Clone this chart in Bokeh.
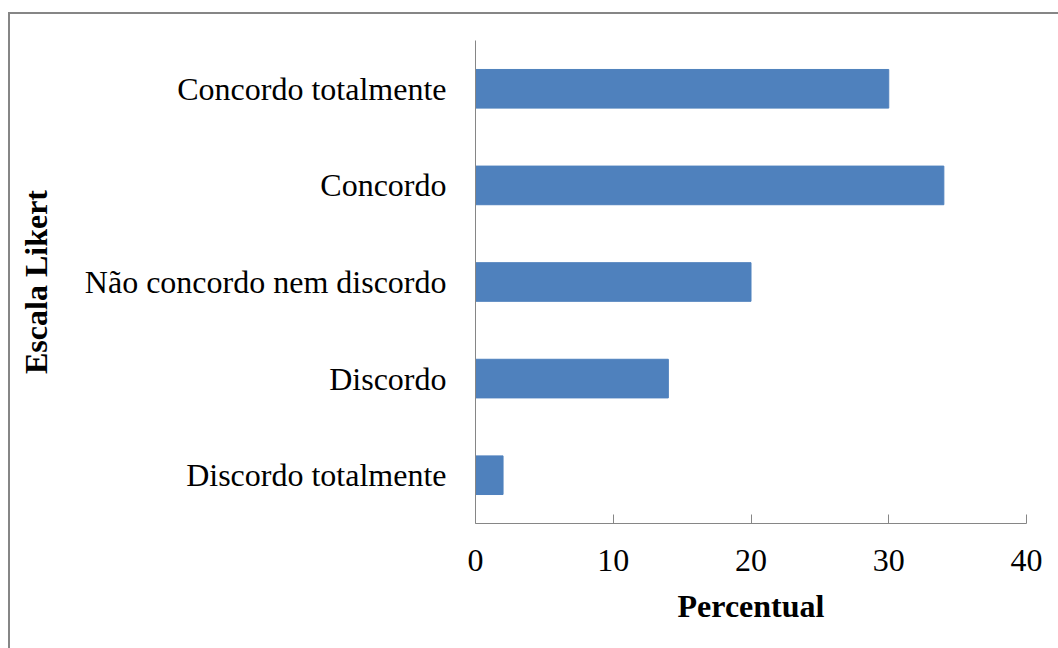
from bokeh.plotting import figure
from bokeh.models import FixedTicker, FactorRange, Range1d
from bokeh.embed import file_html
from bokeh.resources import INLINE

categories = ["Discordo totalmente", "Discordo", "Não concordo nem discordo",
              "Concordo", "Concordo totalmente"]
percentual = [2, 14, 20, 34, 30]
x_ticks = [0, 10, 20, 30, 40]

FONT = "Liberation Serif"
GRAY = "#868686"

p = figure(width=1058, height=648, output_backend="svg", toolbar_location=None,
           y_range=FactorRange(*categories, range_padding=0),
           x_range=Range1d(0, 40))
p.min_border_left = 475
p.min_border_right = 32
p.min_border_top = 40
p.min_border_bottom = 125
p.outline_line_color = None
p.background_fill_color = "white"
p.border_fill_color = None
p.styles = {
    "background-color": "white",
    "background-image": (
        f"linear-gradient({GRAY}, {GRAY}), linear-gradient({GRAY}, {GRAY})"
    ),
    "background-position": "8px 12px, 8px 12px",
    "background-size": "2px 100%, 100% 2px",
    "background-repeat": "no-repeat, no-repeat",
}

p.hbar(y=categories, right=percentual, left=0, height=0.4,
       fill_color="#4F81BD", line_color="#4F81BD")

p.xgrid.visible = False
p.ygrid.visible = False

ax = p.xaxis[0]
ax.ticker = FixedTicker(ticks=x_ticks)
ax.axis_label = "Percentual"
ax.axis_label_text_font = FONT
ax.axis_label_text_font_style = "bold"
ax.axis_label_text_font_size = "32px"
ax.axis_label_text_color = "black"
ax.axis_label_standoff = 14
ax.major_label_text_font = FONT
ax.major_label_text_font_size = "32px"
ax.major_label_text_color = "black"
ax.major_label_standoff = 26
ax.major_tick_in = 9
ax.major_tick_out = 0
ax.minor_tick_line_color = None
ax.axis_line_color = GRAY
ax.major_tick_line_color = GRAY

ay = p.yaxis[0]
ay.axis_label = "Escala Likert"
ay.axis_label_text_font = FONT
ay.axis_label_text_font_style = "bold"
ay.axis_label_text_font_size = "32px"
ay.axis_label_text_color = "black"
ay.axis_label_standoff = 28
ay.major_label_text_font = FONT
ay.major_label_text_font_size = "32px"
ay.major_label_text_color = "black"
ay.major_label_standoff = 29
ay.major_tick_in = 0
ay.major_tick_out = 0
ay.major_tick_line_color = None
ay.axis_line_color = GRAY

open("out.html", "w").write(file_html(p, INLINE))
